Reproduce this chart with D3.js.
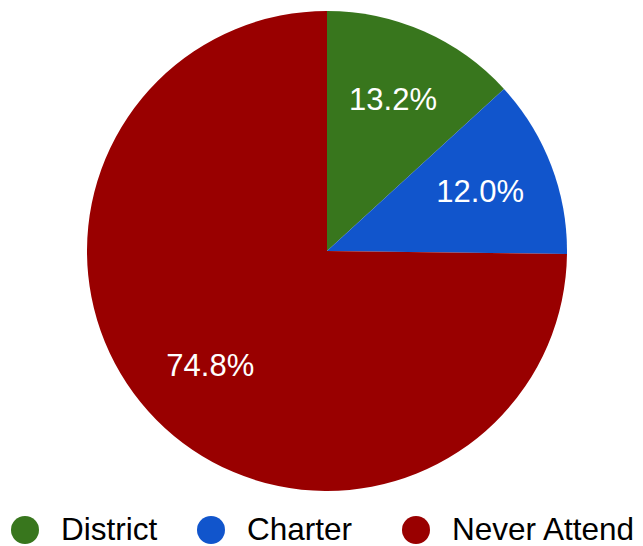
<!DOCTYPE html>
<html>
<head>
<meta charset="utf-8">
<script src="https://cdn.jsdelivr.net/npm/d3@7"></script>
<style>
html,body{margin:0;padding:0;background:#fff;}
svg{display:block;}
text{font-family:"Liberation Sans", Arial, sans-serif;}
</style>
</head>
<body>
<svg id="chart" width="643" height="546"></svg>
<script>
const categories = ["District", "Charter", "Never Attend"];
const values = [13.2, 12.0, 74.8];
const labels = ["13.2%", "12.0%", "74.8%"];
const colors = ["#38761d", "#1155cc", "#990000"];

const svg = d3.select("#chart");
const cx = 327, cy = 251, R = 240;

const pie = d3.pie().sort(null).value(d => d.v);
const data = pie(categories.map((c, i) => ({c, v: values[i], l: labels[i], col: colors[i]})));
const arc = d3.arc().innerRadius(0).outerRadius(R);
const labelArc = d3.arc().innerRadius(164).outerRadius(164);

const g = svg.append("g").attr("transform", `translate(${cx},${cy})`);
g.selectAll("path").data(data).join("path")
  .attr("d", arc)
  .attr("fill", d => d.data.col);

g.selectAll("text").data(data).join("text")
  .attr("transform", d => `translate(${labelArc.centroid(d)})`)
  .attr("text-anchor", "middle")
  .attr("dy", "0.3em")
  .attr("fill", "#fff")
  .attr("font-size", 31)
  .text(d => d.data.l);

// legend (layout constants)
const legendX = [25, 211, 416];
const leg = svg.append("g");
categories.forEach((c, i) => {
  leg.append("circle").attr("cx", legendX[i]).attr("cy", 530).attr("r", 14).attr("fill", colors[i]);
  leg.append("text").attr("x", legendX[i] + 36).attr("y", 540)
    .attr("font-size", 31.5).attr("fill", "#000").text(c);
});
</script>
</body>
</html>
